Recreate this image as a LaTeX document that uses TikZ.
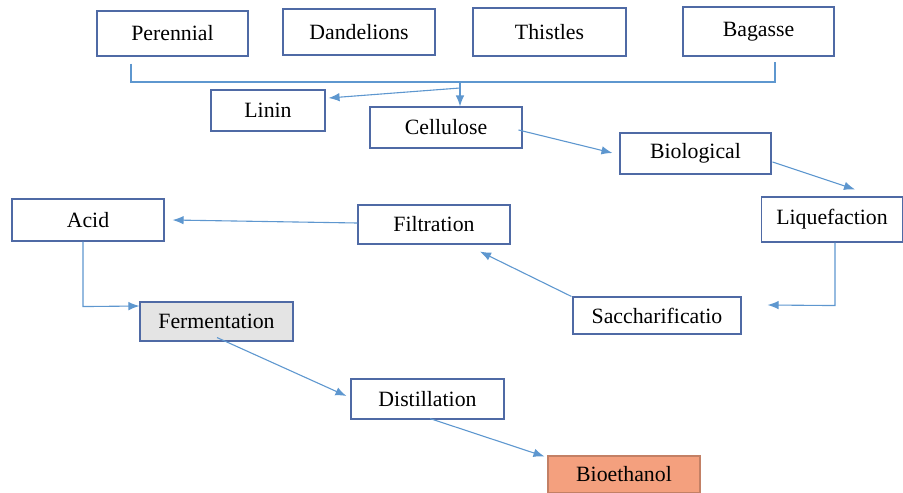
\documentclass[tikz,border=0pt]{standalone}
\usepackage{fontspec}
\setmainfont{Liberation Serif}
\usetikzlibrary{arrows.meta}
\definecolor{boxline}{HTML}{4F6AA5}
\definecolor{arrline}{HTML}{5E97CF}
\definecolor{fermfill}{HTML}{E4E4E4}
\definecolor{biofill}{HTML}{F4A07E}
\tikzset{
  box/.style={draw=boxline, line width=1.1pt, fill=white, rectangle, inner sep=0pt, font=\fontsize{21.8}{25}\selectfont, text=black},
  conn/.style={draw=arrline, line width=1.1pt},
  arr/.style={conn, -{Latex[length=11pt,width=8.5pt]}}
}
\begin{document}
\begin{tikzpicture}[x=1pt,y=-1pt]
\useasboundingbox (0,0) rectangle (903,493);
\node[box, minimum width=151, minimum height=45] (per) at (172.5,33.5) {Perennial};
\node[box, minimum width=152, minimum height=46] (dan) at (359,32) {Dandelions};
\node[box, minimum width=153, minimum height=48] (thi) at (549.5,32) {Thistles};
\node[box, minimum width=151, minimum height=49] (bag) at (758.5,31.5) {Bagasse};
\node[box, minimum width=114, minimum height=41] (lin) at (268,110.5) {Linin};
\node[box, minimum width=152, minimum height=41] (cel) at (446,127.5) {Cellulose};
\node[box, minimum width=151, minimum height=41] (bio) at (695.5,153.5) {Biological};
\node[box, minimum width=141, minimum height=45] (liq) at (832,219.5) {Liquefaction};
\node[box, minimum width=152, minimum height=39] (fil) at (434,224.5) {Filtration};
\node[box, minimum width=152, minimum height=42] (aci) at (88,220) {Acid};
\node[box, minimum width=168, minimum height=37] (sac) at (657,315.5) {Saccharificatio};
\node[box, fill=fermfill, minimum width=153, minimum height=39] (fer) at (216.5,321.5) {Fermentation};
\node[box, minimum width=153, minimum height=40] (dis) at (427.5,399) {Distillation};
\node[box, fill=biofill, draw=biofill!80!black, minimum width=152, minimum height=37] (eth) at (624,474.5) {Bioethanol};
% top collector
\coordinate (c1) at (per.south -| 131,0);
\coordinate (c2) at (775,82);
\coordinate (junc) at (460,82);
\coordinate (jl) at (460,88);
\draw[conn] ([yshift=-7]c1) -- (131,82) -- (c2) -- ([yshift=-5]bag.south -| c2);
\draw[arr] (junc) -- (cel.north -| junc);
\draw[arr] (jl) -- ([xshift=3,yshift=12.5]lin.east);
% chain
\draw[arr] ([xshift=-4,yshift=-2.5]cel.east) -- ([xshift=-7,yshift=0.5]bio.west);
\draw[arr] ([xshift=1,yshift=-8.5]bio.east) -- ([xshift=23,yshift=7]liq.north);
\draw[arr] ([xshift=3]liq.south) -- ([xshift=3,yshift=-63]liq.south) -- ([xshift=26,yshift=10.5]sac.east);
\draw[arr] ([xshift=-1]sac.north west) -- ([xshift=46,yshift=-7]fil.south);
\draw[arr] ([yshift=1.5]fil.west) -- ([xshift=8]aci.east);
\draw[arr] ([xshift=-5]aci.south) -- ([xshift=-5,yshift=-65]aci.south) -- ([yshift=15.5]fer.west);
\draw[arr] ([xshift=0.5,yshift=4]fer.south) -- ([xshift=-4,yshift=3]dis.west);
\draw[arr] ([xshift=2.5,yshift=1]dis.south) -- ([xshift=-3,yshift=-1]eth.north west);
\end{tikzpicture}
\end{document}
